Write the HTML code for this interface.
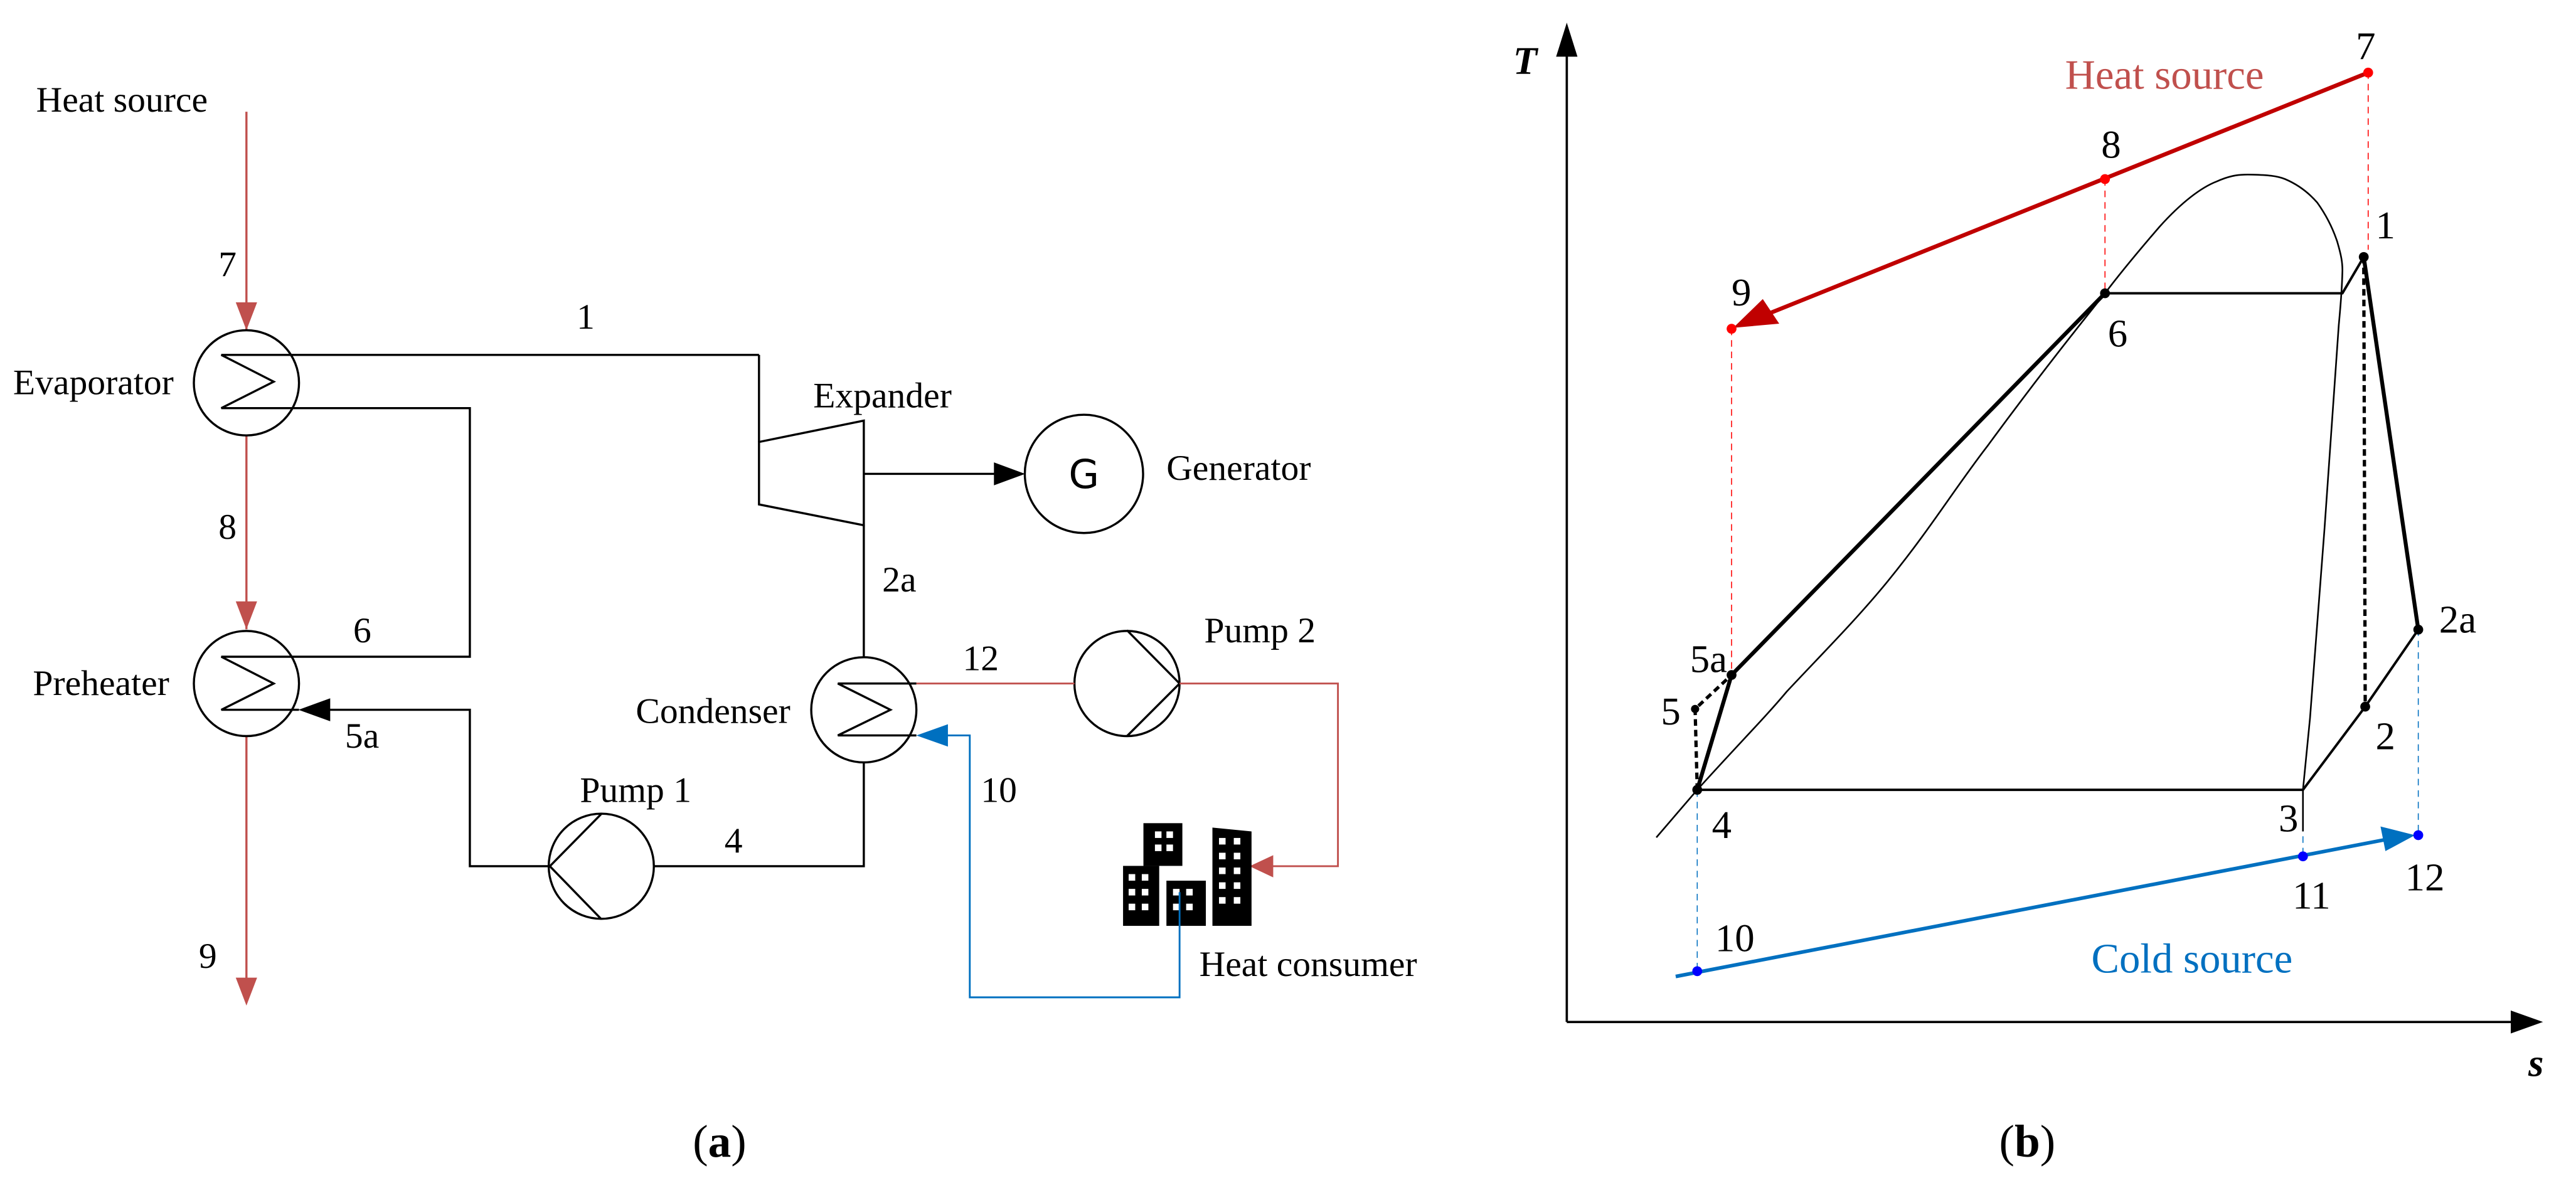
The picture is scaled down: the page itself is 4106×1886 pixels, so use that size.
<!DOCTYPE html>
<html><head><meta charset="utf-8"><style>
html,body{margin:0;padding:0;background:#fff;}
svg{display:block;}
text{font-family:"Liberation Serif",serif;}
</style></head><body>
<svg width="4106" height="1886" viewBox="0 0 1568 720" preserveAspectRatio="none" xmlns="http://www.w3.org/2000/svg">
<rect width="1568" height="720" fill="#fff"/>
<!-- LEFT PANEL -->
<g font-size="22" fill="#000">
<text x="22" y="68">Heat source</text>
<text x="133" y="168">7</text>
<text x="133" y="328">8</text>
<text x="121" y="589">9</text>
<text x="351" y="200">1</text>
<text x="8" y="240">Evaporator</text>
<text x="495" y="248">Expander</text>
<text x="710" y="292">Generator</text>
<text x="537" y="360">2a</text>
<text x="215" y="391">6</text>
<text x="210" y="455">5a</text>
<text x="20" y="423">Preheater</text>
<text x="387" y="440">Condenser</text>
<text x="586" y="408">12</text>
<text x="733" y="391">Pump 2</text>
<text x="353" y="488">Pump 1</text>
<text x="441" y="519">4</text>
<text x="597" y="488">10</text>
<text x="730" y="594">Heat consumer</text>
<text x="438" y="704" text-anchor="middle" font-size="28">(<tspan font-weight="bold">a</tspan>)</text>
</g>
<g stroke="#c0504d" stroke-width="1.3" fill="none">
<line x1="150" y1="68" x2="150" y2="201"/>
<line x1="150" y1="265" x2="150" y2="383"/>
<line x1="150" y1="448" x2="150" y2="600"/>
</g>
<g fill="#c0504d">
<polygon points="150,201 143.5,184 156.5,184"/>
<polygon points="150,383 143.5,366 156.5,366"/>
<polygon points="150,612 143.5,595 156.5,595"/>
</g>
<g stroke="#000" stroke-width="1.3" fill="none">
<circle cx="150" cy="233" r="32"/>
<circle cx="150" cy="416" r="32"/>
<polyline points="462,216 134.7,216 166.6,232.3 134.7,248.4 286,248.4 286,399.7 134.7,399.7 166.6,416 134.7,432 182,432"/>
<polyline points="195,432 286,432 286,527.2 334.7,527.2"/>
<polyline points="462,216 462,269"/>
<polygon points="462,269 525.8,256 525.8,319.7 462,307"/>
<circle cx="366" cy="527.2" r="32"/>
<polyline points="366,495.4 334.7,527.2 366,559.4"/>
<polyline points="398,527.2 525.8,527.2 525.8,464"/>
<circle cx="525.8" cy="432" r="32"/>
<polyline points="557.8,416 510,416 542,432 510,447.6 557.8,447.6"/>
<line x1="525.8" y1="400" x2="525.8" y2="319.7"/>
<line x1="525.8" y1="288.4" x2="608" y2="288.4"/>
<circle cx="659.8" cy="288.4" r="36"/>
<circle cx="686" cy="416" r="32"/>
<polyline points="686,383.6 718,416 686,448"/>
</g>
<polygon points="181.7,432 201,425 201,439" fill="#000"/>
<polygon points="624,288.4 605,281.4 605,295.4" fill="#000"/>
<text x="659.8" y="297" font-size="24" text-anchor="middle" style="font-family:'DejaVu Sans',sans-serif">G</text>
<g stroke="#c0504d" stroke-width="1.1" fill="none">
<line x1="557.8" y1="416" x2="654" y2="416"/>
<polyline points="718,416 814.4,416 814.4,527.2 772,527.2"/>
</g>
<polygon points="760.6,527.2 775,520.5 775,534" fill="#c0504d"/>
<g stroke="#0070c0" stroke-width="1.1" fill="none">
<polyline points="718,543 718,607 590.3,607 590.3,447.6 575,447.6"/>
</g>
<polygon points="557.8,447.6 577,440.8 577,454.4" fill="#0070c0"/>
<g fill="#000">
<rect x="683.6" y="527" width="22" height="36.5"/>
<rect x="696" y="501" width="23.7" height="26"/>
<rect x="710" y="536" width="24" height="27.5"/>
<polygon points="738,503.7 761.8,506 761.8,563.5 738,563.5"/>
</g>
<g fill="#fff">
<rect x="687" y="532" width="4" height="4"/><rect x="695" y="532" width="4" height="4"/>
<rect x="687" y="541" width="4" height="4"/><rect x="695" y="541" width="4" height="4"/>
<rect x="687" y="550" width="4" height="4"/><rect x="695" y="550" width="4" height="4"/>
<rect x="703" y="506" width="4" height="4"/><rect x="710" y="506" width="4" height="4"/>
<rect x="703" y="514" width="4" height="4"/><rect x="710" y="514" width="4" height="4"/>
<rect x="714" y="541" width="4" height="4"/><rect x="722" y="541" width="4" height="4"/>
<rect x="714" y="550" width="4" height="4"/><rect x="722" y="550" width="4" height="4"/>
<rect x="742" y="510" width="4" height="4"/><rect x="751" y="510" width="4" height="4"/>
<rect x="742" y="519" width="4" height="4"/><rect x="751" y="519" width="4" height="4"/>
<rect x="742" y="528" width="4" height="4"/><rect x="751" y="528" width="4" height="4"/>
<rect x="742" y="537" width="4" height="4"/><rect x="751" y="537" width="4" height="4"/>
<rect x="742" y="546" width="4" height="4"/><rect x="751" y="546" width="4" height="4"/>
</g>
<line x1="718" y1="543" x2="718" y2="563.5" stroke="#0070c0" stroke-width="1.1"/>

<!-- RIGHT PANEL -->
<g stroke="#000" stroke-width="1.4" fill="none">
<line x1="953.7" y1="622" x2="953.7" y2="30"/>
<line x1="953.7" y1="622" x2="1530" y2="622"/>
</g>
<polygon points="953.7,13.8 947.2,34.5 960.2,34.5" fill="#000"/>
<polygon points="1547.9,622 1528.3,615 1528.3,629" fill="#000"/>
<text x="921" y="45" font-size="24" font-weight="bold" font-style="italic">T</text>
<text x="1539" y="655" font-size="24" font-weight="bold" font-style="italic">s</text>
<g stroke="#ff0000" stroke-width="0.6" stroke-dasharray="4,3" fill="none">
<line x1="1441.5" y1="44" x2="1441.5" y2="152"/>
<line x1="1281.3" y1="109" x2="1281.3" y2="178.5"/>
<line x1="1054" y1="200" x2="1054" y2="410.8"/>
</g>
<g stroke="#0070c0" stroke-width="0.6" stroke-dasharray="4,3" fill="none">
<line x1="1033.1" y1="481" x2="1033.1" y2="591"/>
<line x1="1401.8" y1="481" x2="1401.8" y2="521"/>
<line x1="1472" y1="383" x2="1472" y2="508"/>
</g>
<path d="M1008.2,509.7 L1033.1,480.7 C1060,451 1075,436 1087.6,420.9 C1110,397 1130,377 1148.7,354.2 C1175,322 1190,297 1209.8,271.4 C1235,237 1260,205 1281.3,178.5 C1293,163 1305,149 1314.5,138 C1328,123 1340,114 1349.4,110.4 C1358,106.5 1364,106 1371.2,106.3 C1380,106.5 1386,107 1390.9,109 C1398,112 1405,117 1410.5,123.3 C1416,131 1420,139 1422.7,147.2 C1425,155 1426,160 1425.8,165.6 C1425.5,178 1424.5,188 1423.6,197.8 L1414.9,322 L1406.1,437 L1401.8,480.7 L1401.8,506" stroke="#000" stroke-width="1" fill="none"/>
<g stroke="#000" fill="none" stroke-linejoin="round">
<polyline points="1033.1,480.7 1054,410.8 1281.3,178.5" stroke-width="2.4"/>
<polyline points="1281.3,178.5 1425.8,178.5 1438.8,156.4" stroke-width="1.5"/>
<line x1="1438.8" y1="156.4" x2="1472" y2="383.2" stroke-width="2.4"/>
<polyline points="1472,383.2 1439.7,430.1 1401.8,480.7 1033.1,480.7" stroke-width="1.5"/>
<line x1="1438.8" y1="156.4" x2="1439.7" y2="430.1" stroke-width="2" stroke-dasharray="4,2.5"/>
<polyline points="1033.1,480.7 1031.8,431.5 1054,410.8" stroke-width="2" stroke-dasharray="4,2.5"/>
</g>
<g fill="#000">
<circle cx="1438.8" cy="156.4" r="3"/>
<circle cx="1281.3" cy="178.5" r="3"/>
<circle cx="1472" cy="383.2" r="3"/>
<circle cx="1439.7" cy="430.1" r="3"/>
<circle cx="1033.1" cy="480.7" r="3"/>
<circle cx="1031.8" cy="431.5" r="2.5"/>
<circle cx="1054" cy="410.8" r="3"/>
</g>
<line x1="1441.5" y1="44.2" x2="1075" y2="191.5" stroke="#c00000" stroke-width="2.5"/>
<polygon points="1055,199.5 1073,182 1083,197" fill="#c00000"/>
<g fill="#ff0000">
<circle cx="1441.5" cy="44.2" r="3"/>
<circle cx="1281.3" cy="109" r="3"/>
<circle cx="1054" cy="200.1" r="3"/>
</g>
<line x1="1020" y1="594.3" x2="1452" y2="511" stroke="#0070c0" stroke-width="2.2"/>
<polygon points="1470,508.3 1449,503 1452,518" fill="#0070c0"/>
<g fill="#0000ff">
<circle cx="1033.1" cy="591.1" r="3"/>
<circle cx="1401.8" cy="521.2" r="3"/>
<circle cx="1472" cy="508.3" r="3"/>
</g>
<g font-size="24" fill="#000" text-anchor="middle">
<text x="1440" y="36">7</text>
<text x="1285" y="96">8</text>
<text x="1060" y="186">9</text>
<text x="1452" y="145">1</text>
<text x="1289" y="211">6</text>
<text x="1496" y="385">2a</text>
<text x="1040" y="409">5a</text>
<text x="1017" y="441">5</text>
<text x="1452" y="456">2</text>
<text x="1393" y="506">3</text>
<text x="1048" y="510">4</text>
<text x="1056" y="579">10</text>
<text x="1407" y="553">11</text>
<text x="1476" y="542">12</text>
</g>
<text x="1257" y="54" font-size="25.5" fill="#c0504d">Heat source</text>
<text x="1273" y="592" font-size="25.5" fill="#0070c0">Cold source</text>
<text x="1234" y="704" font-size="28" text-anchor="middle">(<tspan font-weight="bold">b</tspan>)</text>
</svg>
</body></html>
